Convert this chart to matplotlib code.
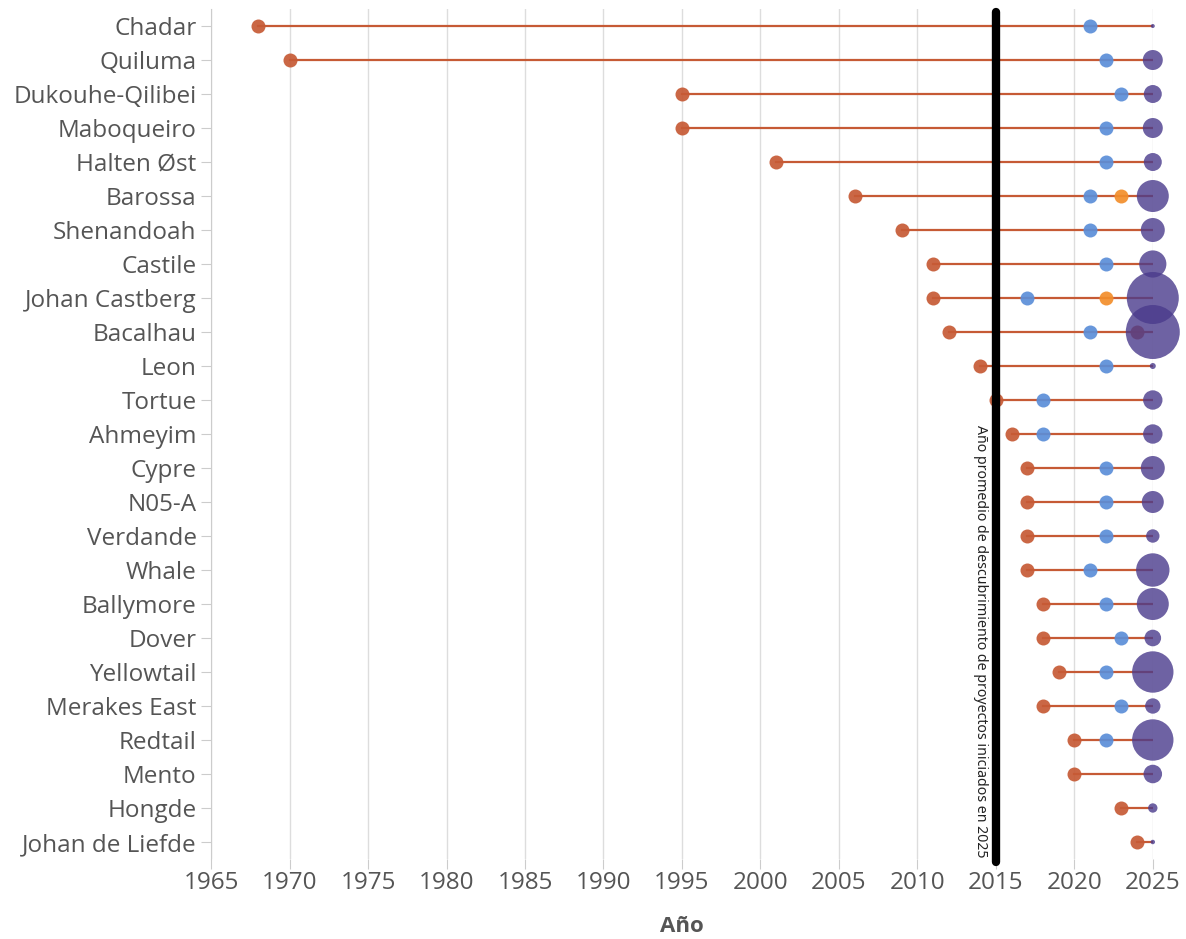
import matplotlib.pyplot as plt
import numpy as np

# datos
proyectos = ['Chadar', 'Quiluma', 'Dukouhe-Qilibei', 'Maboqueiro', 'Halten Øst',
             'Barossa', 'Shenandoah', 'Castile', 'Johan Castberg', 'Bacalhau',
             'Leon', 'Tortue', 'Ahmeyim', 'Cypre', 'N05-A', 'Verdande', 'Whale',
             'Ballymore', 'Dover', 'Yellowtail', 'Merakes East', 'Redtail',
             'Mento', 'Hongde', 'Johan de Liefde']
descubrimiento = [1968, 1970, 1995, 1995, 2001, 2006, 2009, 2011, 2011, 2012,
                  2014, 2015, 2016, 2017, 2017, 2017, 2017, 2018, 2018, 2019,
                  2018, 2020, 2020, 2023, 2024]
fid = [2021, 2022, 2023, 2022, 2022, 2021, 2021, 2022, 2017, 2021,
       2022, 2018, 2018, 2022, 2022, 2022, 2021, 2022, 2023, 2022,
       2023, 2022, None, None, None]
# segundo hito (naranja)
hito_extra = {'Barossa': 2023, 'Johan Castberg': 2022}
# punto rojo adicional
desc_extra = {'Bacalhau': 2024}
inicio = 2025
tamano = [4, 100, 81, 100, 81, 256, 144, 185, 676, 729,
          9, 94, 94, 144, 121, 45, 279, 256, 69, 428,
          59, 428, 86, 22, 5]
promedio = 2015
texto_promedio = 'Año promedio de descubrimiento de proyectos iniciados en 2025'

rojo = '#c65a35'
azul = '#5b8ed8'
naranja = '#f28e2b'
morado = '#4a3b8c'
gris = '#555555'

plt.rcParams['font.family'] = ['Open Sans', 'DejaVu Sans']

fig = plt.figure(figsize=(11.86, 9.39), dpi=100)
ax = fig.add_axes([0.178, 0.0852, 0.794, 0.9052])

y = np.arange(len(proyectos))
dot = (14 * 0.72) ** 2

for i, p in enumerate(proyectos):
    ax.plot([descubrimiento[i], inicio], [i, i], color=rojo, lw=1.6, zorder=2)

ax.scatter(descubrimiento, y, s=dot, color=rojo, alpha=0.92, zorder=3, linewidths=0)
for p, v in desc_extra.items():
    ax.scatter([v], [proyectos.index(p)], s=dot, color=rojo, alpha=0.92, zorder=3, linewidths=0)
fy = [i for i, v in enumerate(fid) if v is not None]
fx = [v for v in fid if v is not None]
ax.scatter(fx, fy, s=dot, color=azul, alpha=0.92, zorder=3, linewidths=0)
for p, v in hito_extra.items():
    ax.scatter([v], [proyectos.index(p)], s=dot, color=naranja, alpha=0.92, zorder=3, linewidths=0)

s_big = np.array(tamano) * (2 * 0.72) ** 2
ax.scatter([inicio] * len(proyectos), y, s=s_big, color=morado, alpha=0.8,
           zorder=4, linewidths=0, clip_on=False)

# linea del promedio
ax.plot([promedio, promedio], [-0.4, 24.6], color='black', lw=6,
        solid_capstyle='round', zorder=5, clip_on=False)
ax.text(promedio - 1.0, 24.45, texto_promedio, rotation=270, ha='center',
        va='bottom', fontsize=10.2, color='#222222', family=['Noto Sans', 'DejaVu Sans'])

ax.set_xlim(1965, 2025)
ax.set_ylim(len(proyectos) - 0.5, -0.5)
ax.set_xticks(np.arange(1965, 2026, 5))
ax.set_yticks(y)
ax.set_yticklabels(proyectos)
ax.grid(axis='x', color='#dddddd', lw=1)
ax.set_axisbelow(True)
for s in ['top', 'right', 'bottom']:
    ax.spines[s].set_visible(False)
ax.spines['left'].set_color('#cccccc')
ax.tick_params(axis='both', colors='#cccccc', labelcolor=gris, labelsize=17.5, length=7)
ax.tick_params(axis='x', pad=2)
ax.set_xlabel('Año', fontsize=16, fontweight='bold', color=gris, labelpad=15)

plt.savefig('out.png', dpi=100)
